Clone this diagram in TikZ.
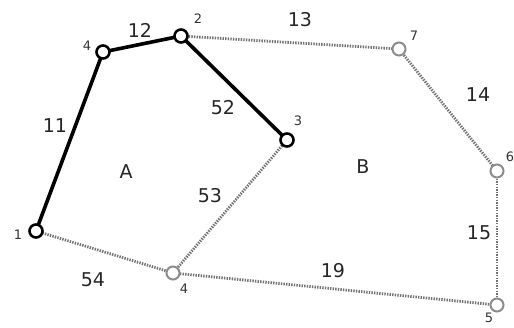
\documentclass[tikz,border=0pt]{standalone}
\usepackage{fontspec}
\setmainfont{DejaVu Sans}
\begin{document}
\begin{tikzpicture}[x=1pt,y=-1pt,
  solidv/.style={circle,draw=black,line width=2.6pt,fill=white,inner sep=0pt,minimum size=13pt},
  dotv/.style={circle,draw=black!45,line width=2pt,fill=white,inner sep=0pt,minimum size=13pt},
  bold/.style={line width=3.6pt,black},
  dots/.style={line width=2.8pt,black!55,dash pattern=on 1.4pt off 1.2pt},
  elab/.style={font=\fontsize{19}{19}\selectfont,text=black!85},
  vlab/.style={font=\fontsize{13}{13}\selectfont,text=black!80}]
\useasboundingbox (0,0) rectangle (514,327);
\coordinate (p1) at (36,231);
\coordinate (p4t) at (103,52);
\coordinate (p2) at (181,36);
\coordinate (p3) at (287,140);
\coordinate (p4b) at (173,273);
\coordinate (p7) at (399,49);
\coordinate (p6) at (497,171);
\coordinate (p5) at (497,305);
\draw[dots] (p2) -- (p7);
\draw[dots] (p7) -- (p6);
\draw[dots] (p6) -- (p5);
\draw[dots] (p5) -- (p4b);
\draw[dots] (p4b) -- (p1);
\draw[dots] (p4b) -- (p3);
\draw[bold] (p1) -- (p4t);
\draw[bold] (p4t) -- (p2);
\draw[bold] (p2) -- (p3);
\node[solidv] (v1) at (p1) {};
\node[solidv] (v4t) at (p4t) {};
\node[solidv] (v2) at (p2) {};
\node[solidv] (v3) at (p3) {};
\node[dotv] (v4b) at (p4b) {};
\node[dotv] (v7) at (p7) {};
\node[dotv] (v6) at (p6) {};
\node[dotv] (v5) at (p5) {};
\node[vlab] (l1) at (18,235) {1};
\node[vlab] (l4t) at (87,46) {4};
\node[vlab] (l2) at (198,19) {2};
\node[vlab] (l3) at (298,121) {3};
\node[vlab] (l4b) at (184,289) {4};
\node[vlab] (l7) at (414,36) {7};
\node[vlab] (l6) at (510,157) {6};
\node[vlab] (l5) at (489,318) {5};
\node[elab] (e12) at (140,30) {12};
\node[elab] (e13) at (300,20) {13};
\node[elab] (e14) at (478,95) {14};
\node[elab] (e52) at (223,108) {52};
\node[elab] (e11) at (55,126) {11};
\node[elab] (e53) at (210,196) {53};
\node[elab] (e15) at (479,233) {15};
\node[elab] (e54) at (93,280) {54};
\node[elab] (e19) at (333,271) {19};
\node[elab] (rA) at (126,172) {A};
\node[elab] (rB) at (363,167) {B};
\end{tikzpicture}
\end{document}
